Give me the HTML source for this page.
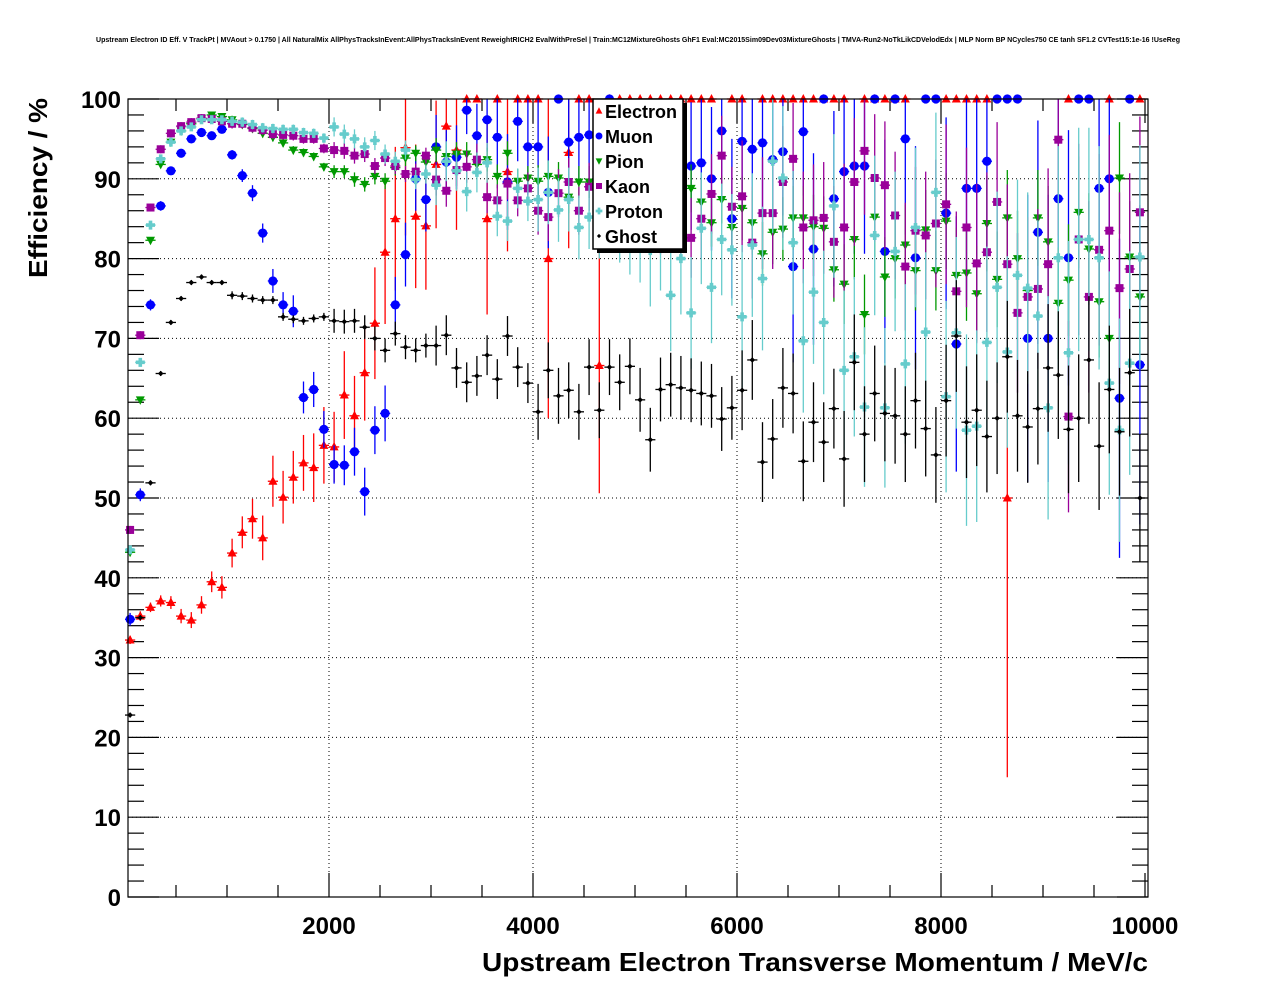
<!DOCTYPE html>
<html><head><meta charset="utf-8"><style>
html,body{margin:0;padding:0;background:#fff;}
svg{display:block;font-family:"Liberation Sans",sans-serif;}
</style></head><body>
<svg id="chart" width="1276" height="996" viewBox="0 0 1276 996" xmlns="http://www.w3.org/2000/svg">
<text x="638" y="42" text-anchor="middle" font-size="7" font-weight="bold" textLength="1084" lengthAdjust="spacingAndGlyphs">Upstream Electron ID Eff. V TrackPt | MVAout &gt; 0.1750 | All NaturalMix AllPhysTracksInEvent:AllPhysTracksInEvent ReweightRICH2 EvalWithPreSel | Train:MC12MixtureGhosts GhF1 Eval:MC2015Sim09Dev03MixtureGhosts | TMVA-Run2-NoTkLikCDVelodEdx | MLP Norm BP NCycles750 CE tanh SF1.2 CVTest15:1e-16 !UseReg</text>
<g id="grid"></g>
<g id="axes"></g>
<g id="series"></g>
<rect x="128" y="99" width="1020" height="798" fill="none" stroke="#000" stroke-width="1.2"/>
<text transform="translate(47,278) rotate(-90)" font-size="26" font-weight="bold" textLength="180" lengthAdjust="spacingAndGlyphs">Efficiency / %</text>
<text x="482" y="971" font-size="26" font-weight="bold" textLength="666" lengthAdjust="spacingAndGlyphs">Upstream Electron Transverse Momentum / MeV/c</text>
<g id="legend"></g>
</svg>
<script>
const xCenters=[];for(let i=0;i<100;i++)xCenters.push(50+100*i);
const xTicks=[2000,4000,6000,8000,10000];
const yTicks=[0,10,20,30,40,50,60,70,80,90,100];
const seriesNames=["Electron","Muon","Pion","Kaon","Proton","Ghost"];
const electronVals=[32.2,35.2,36.3,37.1,36.9,35.2,34.7,36.6,39.5,38.8,43.1,45.7,47.4,45,52.1,50.1,52.6,54.4,53.8,56.6,56.4,62.9,60.3,65.7,71.9,80.8,85,93.9,85.3,84.1,91.8,96.6,93.6,100,100,85,100,90.9,100,100,100,80,null,93.3,100,100,66.6,100,100,100,100,100,100,100,100,100,100,100,null,100,100,null,100,100,100,100,100,100,100,100,100,null,100,100,100,100,100,null,null,null,100,100,100,100,100,null,50,null,null,null,null,null,100,null,null,null,100,null,null,100];
const electronErr=[.5,.6,.6,.7,.8,.9,1,1.1,1.3,1.4,1.8,2,2.5,2.8,3.2,3.3,3.3,3.5,4.3,4.8,4.4,5.5,5,6,7,9,9,11,9,8,8,8,10,0,0,12,0,10,0,0,0,20,0,12,0,0,16,0,0,0,0,0,0,0,0,0,0,0,0,0,0,0,0,0,0,0,0,0,0,0,0,0,0,0,0,0,0,0,0,0,0,0,0,0,0,0,35,0,0,0,0,0,0,0,0,0,0,0,0,0];
const muonVals=[34.8,50.4,74.2,86.6,91,93.2,95,95.8,95.4,96.2,93,90.4,88.2,83.2,77.2,74.2,73.4,62.6,63.6,58.6,54.2,54.1,55.8,50.8,58.5,60.6,74.2,80.5,90,87.4,94,92.1,92.7,98.6,95.4,97.4,95.2,89.6,97.2,94,94,88.3,100,94.6,95.2,95.5,96,100,97,93,96,94,97,95,95.9,91.6,92,90,96,85,94.7,93.7,94.5,92.4,93.4,79,95.9,81.2,100,87.5,90.9,91.6,91.6,100,80.9,100,95,80.1,100,100,85.7,69.3,88.8,88.8,92.2,100,100,100,70,83.3,70,87.5,80.1,100,100,88.8,90,62.5,100,66.7];
const muonErr=[.8,.8,.7,.6,.5,.5,.4,.4,.4,.4,.6,.8,1,1.2,1.5,1.6,2,2,2.2,2.3,2.4,2.5,3,3,3,3.5,3.5,4,4,4,4,4,4,3,4,4,5,6,5,6,6,7,0,6,6,6,6,0,6,7,6,7,6,7,8,8,8,9,8,10,8,9,9,9,8,12,8,12,0,11,11,11,11,0,14,0,12,14,0,0,12,16,14,14,12,0,0,0,18,14,18,14,16,0,0,14,14,20,0,20];
const pionVals=[43.2,62.3,82.3,91.8,94.6,96,96.9,97.5,98,97.8,97.4,96.8,96.3,95.7,95.2,94.5,93.6,93.3,92.8,91.5,90.9,90.9,89.9,89.3,90.3,89.7,91.4,92.6,93.2,92.1,93.6,92.8,93.1,93.1,91.8,92.4,90.3,93.2,89.7,90.1,89.7,90.3,90.1,87.7,89.6,89.6,89.6,89.3,88.8,89,88.5,87,88.3,87.8,88.3,88.8,87.1,84.5,87.4,83.9,86.3,84.5,80.6,83.3,83.7,85.1,85.1,84,83.8,78.6,76.8,82.4,73,85.2,77.7,80,81.7,78.5,83.6,78.5,84.7,77.9,78.2,75.6,84.4,77.4,85.1,80,76,85.1,82.1,74.4,77.3,85.8,81.2,74.6,70,90.1,80.2,75.2];
const pionErr=[.4,.4,.4,.4,.4,.4,.4,.4,.4,.4,.5,.5,.5,.5,.5,.5,.5,.5,.5,.5,.8,.8,.9,.9,1,1,1,1,1,1,1.5,1.5,1.5,1.5,1.5,1.5,1.5,1.5,1.5,1.5,2,2,2,2,2,2,2,2,2,2,3,3,3,3,3,3,3,3,3,3,4,4,4,4,4,4,4,4,4,4,5,5,5,5,5,5,5,5,5,5,6,6,6,6,6,6,6,6,6,6,7,7,7,7,7,7,7,7,7,7];
const kaonVals=[46,70.4,86.4,93.7,95.7,96.6,97.1,97.6,97.5,97.2,96.9,96.9,96.4,96.1,95.6,95.5,95.4,95,95,93.8,93.6,93.5,92.9,93.1,91.6,92.6,91.6,90.6,90.9,92.9,89.9,88.5,91.1,91.5,92.4,87.7,87.3,89.4,87.3,88.8,86,85.2,88.2,89.6,86,89,88.5,87,86.5,87.5,86,87,85.5,86,85,82.6,85,88.1,92.9,86.5,87.8,82,85.7,85.7,89.6,92.5,83.9,84.8,85.1,82.1,83.9,89.6,93.5,90.1,89.2,85.4,79,83.5,82.9,84.4,86.8,75.9,83.9,79.4,80.8,87.1,79.3,73.2,75.2,76.2,79.3,94.9,60.2,82.4,75.2,81.1,83.5,76.3,78.7,85.8];
const kaonErr=[.5,.5,.5,.5,.5,.5,.5,.5,.5,.5,.6,.6,.6,.6,.6,.6,.6,.6,.6,.6,1,1,1,1,1,1,1,1,1,1,2,2,2,2,2,2,2,2,2,2,3,3,3,3,3,3,3,3,3,3,5,5,5,5,5,5,5,5,5,5,7,7,7,7,7,7,7,7,7,7,8,8,8,8,8,8,8,8,8,8,10,10,10,10,10,10,10,10,10,10,12,12,12,12,12,12,12,12,12,12];
const protonVals=[43.5,67,84.2,92.5,94.6,96,96.5,97.4,97.4,97.4,97.2,97.1,96.8,96.4,96.3,96.2,96.2,95.8,95.7,95.1,96.5,95.6,95,94,94.8,93.1,92.2,93.6,89.9,90.6,89.2,92.2,91,88.4,90.8,92,85.3,84.7,88.8,87.2,87.4,88.3,86.1,87.4,83.9,85.2,84,85,83.5,82,84,81,83,75.4,80,73.2,83.8,76.4,82.4,81.1,72.7,81.7,77.5,92.2,90.1,82,69.7,75.8,72,86.6,66,67.7,61.4,82.9,61.3,80.9,66.8,83.9,70.8,88.3,62.7,70.7,58.5,59,69.5,76.4,68.3,77.9,76.3,72.8,61.3,80.1,68.2,82.4,82.4,80.1,64.4,58.5,66.9,80.2];
const protonErr=[.5,.5,.5,.5,.5,.5,.5,.5,.5,.5,.6,.6,.6,.6,.6,.6,.6,.6,.6,.6,1.2,1.2,1.2,1.2,1.2,1.2,1.2,1.2,1.2,1.2,2.5,2.5,2.5,2.5,2.5,2.5,2.5,2.5,2.5,2.5,4,4,4,4,4,4,4,4,4,4,7,7,7,7,7,7,7,7,7,7,9,9,9,9,9,9,9,9,9,9,10,10,10,10,10,10,10,10,10,10,12,12,12,12,12,12,12,12,12,12,14,14,14,14,14,14,14,14,14,14];
const ghostVals=[22.8,35,51.9,65.6,72,75,77,77.7,77,77,75.4,75.3,75,74.8,74.8,72.7,72.4,72.2,72.5,72.7,72.2,72.1,72.2,71.4,70,68.5,70.6,68.9,68.5,69.1,69.1,70.4,66.3,64.5,65.3,67.9,64.9,70.3,66.4,64.4,60.8,66,62.8,63.5,60.8,66.4,61,66.4,64.5,66.5,62.3,57.3,63.6,64.2,63.8,63.5,63.1,62.8,59.9,61.3,63.5,67.3,54.5,57.4,63.8,63.1,54.6,59.5,57,61.2,54.9,67,58,63.1,60.6,60.3,58,62.2,58.7,55.4,62.2,70.3,59.5,61,57.7,60,67.7,60.3,58.9,61.2,66.3,65.4,58.6,60,67.3,56.5,63.6,58.3,65.7,50];
const ghostErr=[.3,.3,.3,.3,.3,.3,.3,.3,.3,.3,.5,.5,.5,.5,.5,.5,.5,.5,.5,.5,1.5,1.5,1.5,1.5,1.5,1.5,1.5,1.5,1.5,1.5,2.5,2.5,2.5,2.5,2.5,2.5,2.5,2.5,2.5,2.5,3.5,3.5,3.5,3.5,3.5,3.5,3.5,3.5,3.5,3.5,4,4,4,4,4,4,4,4,4,4,5,5,5,5,5,5,5,5,5,5,6,6,6,6,6,6,6,6,6,6,7,7,7,7,7,7,7,7,7,7,8,8,8,8,8,8,8,8,8,8];

const NS="http://www.w3.org/2000/svg";
function xs(v){return 125+v*0.102;}
function ys(v){return 897-v*7.98;}
function mk(tag,attrs,parent){const e=document.createElementNS(NS,tag);for(const k in attrs)e.setAttribute(k,attrs[k]);parent.appendChild(e);return e;}
const grid=document.getElementById('grid'),axes=document.getElementById('axes'),ser=document.getElementById('series'),leg=document.getElementById('legend');

xTicks.slice(0,4).forEach(t=>{const l=mk('line',{x1:xs(t),x2:xs(t),y1:99,y2:897,stroke:'#000','stroke-width':1,'stroke-dasharray':'1,3'},grid);

});
yTicks.slice(1,10).forEach(t=>{const l=mk('line',{x1:128,x2:1148,y1:ys(t),y2:ys(t),stroke:'#000','stroke-width':1,'stroke-dasharray':'1,3'},grid);

});
for(let v=0;v<=100;v+=2){const major=v%10===0;const len=major?31:16;
 [[128,128+len],[1148,1148-len]].forEach(p=>{const l=mk('line',{x1:p[0],x2:p[1],y1:ys(v),y2:ys(v),stroke:'#000','stroke-width':1.2},axes);
 
 });}
yTicks.forEach(t=>{const tx=mk('text',{x:121,y:ys(t)+9,'text-anchor':'end','font-size':24,'font-weight':'bold'},axes);tx.textContent=t;

});
for(let v=500;v<=10000;v+=500){const major=v%2000===0;const len=major?24:12;
 [[897,897-len],[99,99+len]].forEach(p=>{const l=mk('line',{x1:xs(v),x2:xs(v),y1:p[0],y2:p[1],stroke:'#000','stroke-width':1.2},axes);
 
 });}
xTicks.forEach(t=>{const tx=mk('text',{x:xs(t),y:934,'text-anchor':'middle','font-size':24,'font-weight':'bold'},axes);tx.textContent=t;

});

const styles=[
 {vals:electronVals,err:electronErr,c:'#ff0000',m:'tri-up'},
 {vals:muonVals,err:muonErr,c:'#0000ff',m:'circle'},
 {vals:pionVals,err:pionErr,c:'#009900',m:'tri-down'},
 {vals:kaonVals,err:kaonErr,c:'#990099',m:'square'},
 {vals:protonVals,err:protonErr,c:'#66cccc',m:'cross'},
 {vals:ghostVals,err:ghostErr,c:'#000000',m:'diamond'}];
function marker(type,x,y,c,parent,s){s=s||1;let e;
 if(type==='circle')e=mk('circle',{cx:x,cy:y,r:4.6*s,fill:c},parent);
 else if(type==='square')e=mk('rect',{x:x-4*s,y:y-4*s,width:8*s,height:8*s,fill:c},parent);
 else if(type==='tri-up')e=mk('polygon',{points:`${x},${y-5*s} ${x-4.5*s},${y+3.5*s} ${x+4.5*s},${y+3.5*s}`,fill:c},parent);
 else if(type==='tri-down')e=mk('polygon',{points:`${x},${y+5*s} ${x-4.5*s},${y-3.5*s} ${x+4.5*s},${y-3.5*s}`,fill:c},parent);
 else if(type==='cross'){const a=1.8*s,b=4.5*s;e=mk('polygon',{points:`${x-a},${y-b} ${x+a},${y-b} ${x+a},${y-a} ${x+b},${y-a} ${x+b},${y+a} ${x+a},${y+a} ${x+a},${y+b} ${x-a},${y+b} ${x-a},${y+a} ${x-b},${y+a} ${x-b},${y-a} ${x-a},${y-a}`,fill:c},parent);}
 else e=mk('polygon',{points:`${x},${y-2.8*s} ${x+2.8*s},${y} ${x},${y+2.8*s} ${x-2.8*s},${y}`,fill:c},parent);
 return e;}
styles.forEach((st,si)=>{const g=mk('g',{},ser);
 
 
 st.vals.forEach((v,i)=>{if(v===null)return;const x=xs(xCenters[i]),y=ys(v);
  const hi=Math.min(100,v+st.err[i]),lo=Math.max(0,v-st.err[i]);
  if(st.err[i]>0){const l=mk('line',{x1:x,x2:x,y1:ys(hi),y2:ys(lo),stroke:st.c,'stroke-width':1.3},g);
  
  }
  const h=mk('line',{x1:x-5.1,x2:x+5.1,y1:y,y2:y,stroke:st.c,'stroke-width':1.3},g);
  
  
  const m=marker(st.m,x,y,st.c,g);
  
  
 });});
const sh=mk('rect',{x:597,y:103,width:90,height:150,fill:'#000'},leg);


const bx=mk('rect',{x:593,y:99,width:90,height:150,fill:'#fff',stroke:'#000','stroke-width':1.5},leg);


seriesNames.forEach((n,i)=>{const y=111+25*i;const g=mk('g',{},leg);
 
 
 marker(styles[i].m,599,y,styles[i].c,g,0.75);
 const t=mk('text',{x:605,y:y+7,'font-size':18,'font-weight':'bold'},g);t.textContent=n;});
</script>
</body></html>
